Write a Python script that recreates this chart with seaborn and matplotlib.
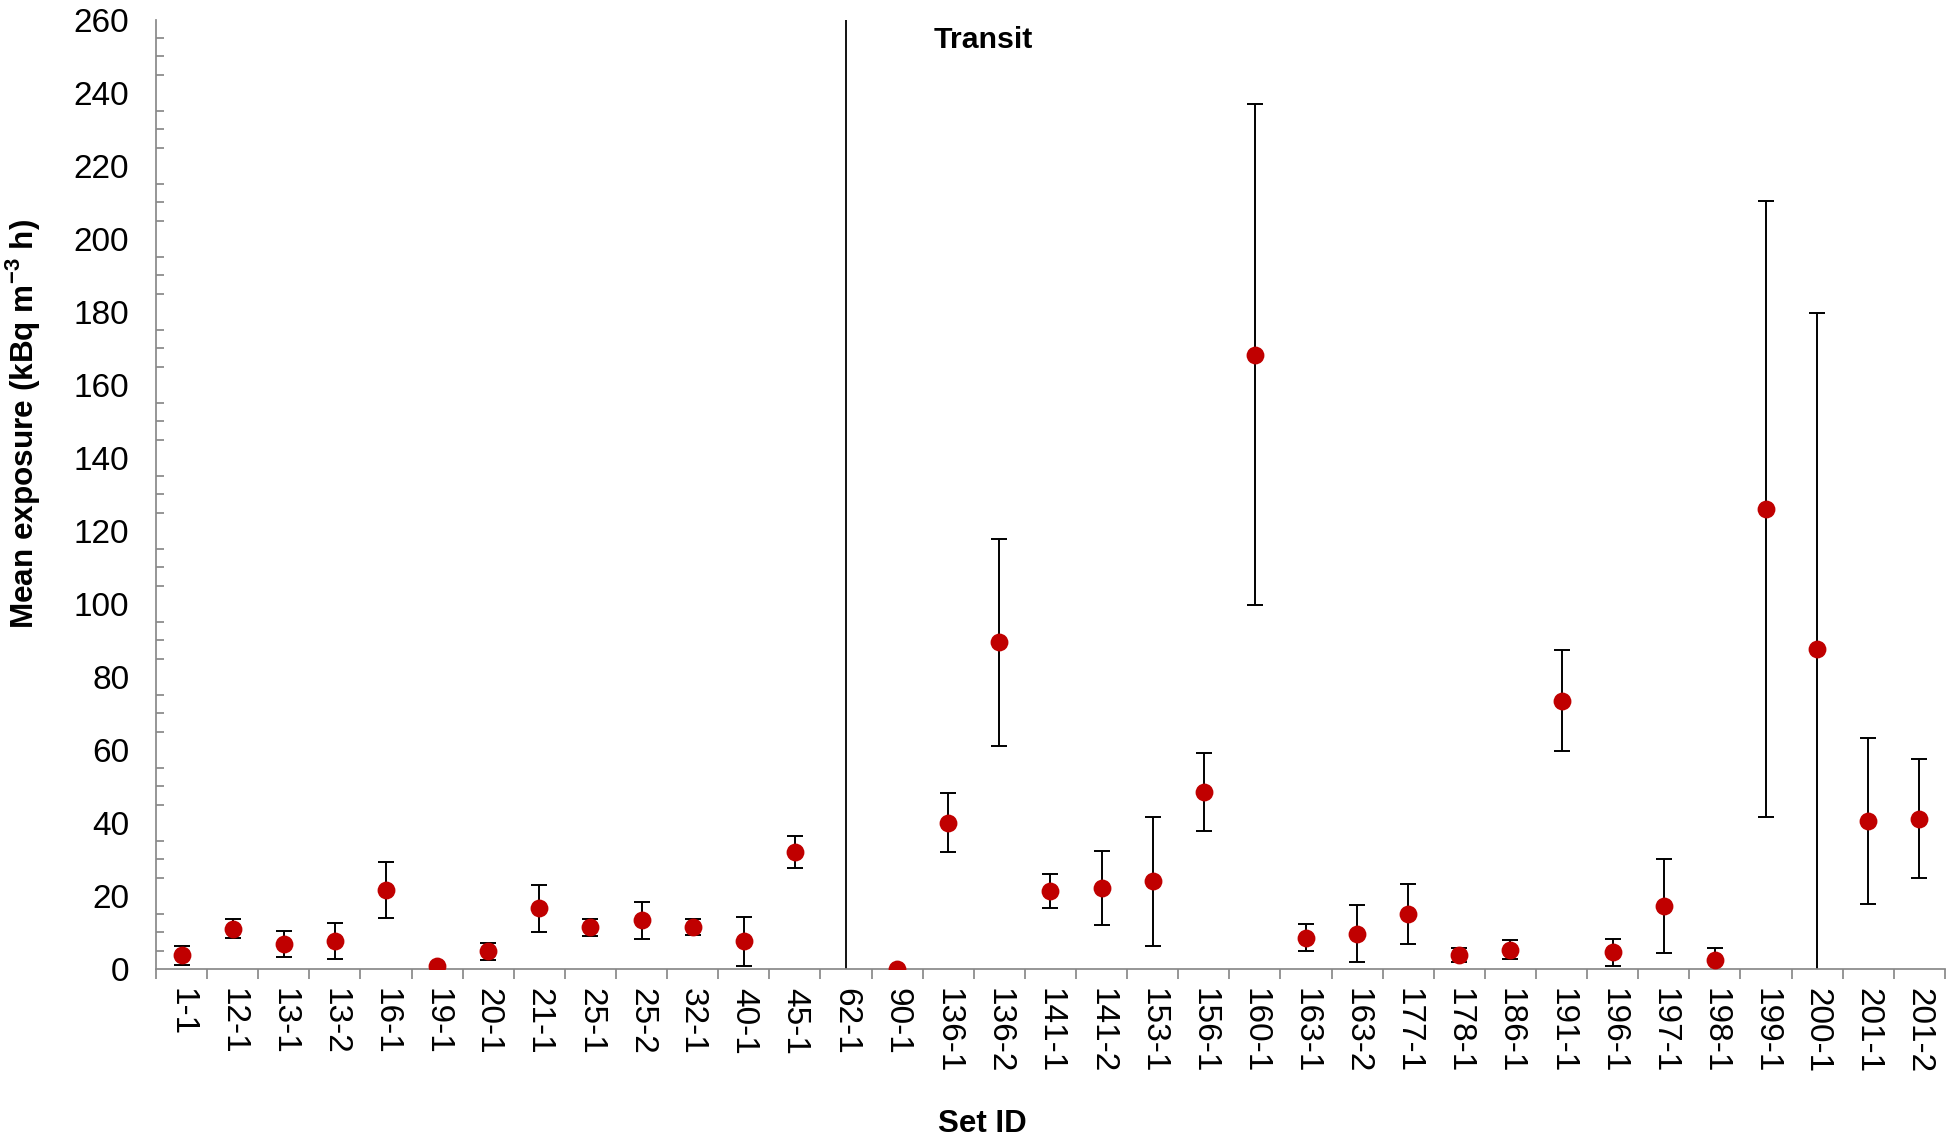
"""
mean exposure per set, with error bars and the transit divider
"""

import numpy as np
import pandas as pd
import matplotlib
matplotlib.use('Agg')
import matplotlib.pyplot as plt
from matplotlib.ticker import MultipleLocator, FixedLocator
import seaborn as sns

set_ids = ['1-1', '12-1', '13-1', '13-2', '16-1', '19-1', '20-1', '21-1', '25-1', '25-2',
           '32-1', '40-1', '45-1', '62-1', '90-1', '136-1', '136-2', '141-1', '141-2',
           '153-1', '156-1', '160-1', '163-1', '163-2', '177-1', '178-1', '186-1', '191-1',
           '196-1', '197-1', '198-1', '199-1', '200-1', '201-1', '201-2']
mean_exposure = [3.7, 11.0, 6.8, 7.7, 21.7, 0.7, 4.8, 16.6, 11.4, 13.3,
                 11.5, 7.6, 32.1, np.nan, 0.0, 40.1, 89.5, 21.3, 22.1,
                 24.0, 48.4, 168.3, 8.5, 9.7, 15.1, 3.8, 5.3, 73.5,
                 4.6, 17.2, 2.5, 126.0, 87.8, 40.5, 41.2]
error = [2.5, 2.6, 3.6, 5.0, 7.6, np.nan, 2.3, 6.4, 2.3, 5.0,
         2.3, 6.7, 4.3, np.nan, np.nan, 8.0, 28.3, 4.6, 10.1,
         17.6, 10.7, 68.6, 3.7, 7.8, 8.2, 1.9, 2.6, 13.9,
         3.7, 12.9, 3.2, 84.4, 91.9, 22.7, 16.3]
transit_set = '62-1'

df = pd.DataFrame({'set_id': set_ids, 'mean': mean_exposure, 'err': error})
df['pos'] = np.arange(len(df))

sns.set_style('white')
plt.rcParams['font.family'] = ['Liberation Sans', 'DejaVu Sans']
plt.rcParams['text.color'] = 'black'
plt.rcParams['axes.labelcolor'] = 'black'
plt.rcParams['xtick.labelcolor'] = 'black'
plt.rcParams['ytick.labelcolor'] = 'black'

fig = plt.figure(figsize=(19.5, 11.42), dpi=100)
ax = fig.add_axes([0.08, 0.1515, 0.9174, 0.831])

axis_grey = '#898989'

# error bars first, points on top
ax.errorbar(df['pos'], df['mean'], yerr=df['err'], fmt='none', ecolor='black',
            elinewidth=1.4, capsize=5.8, capthick=1.4, zorder=2)
sns.scatterplot(data=df.dropna(subset=['mean']), x='pos', y='mean', ax=ax,
                color='#C00000', s=165, linewidth=0, zorder=3, legend=False)

# transit divider
ax.axvline(df.loc[df['set_id'] == transit_set, 'pos'].iloc[0], color='black', lw=1.3, zorder=1)
ax.text(15.68, 254.5, 'Transit', fontsize=21.8, fontweight='bold', ha='center', va='center')

ax.set_xlim(-0.5, len(df) - 0.5)
ax.set_ylim(0, 260)

# y axis ticks
ax.yaxis.set_major_locator(MultipleLocator(20))
ax.yaxis.set_minor_locator(MultipleLocator(5))
ax.tick_params(axis='y', which='major', direction='inout', length=11.5, width=1.25,
               color=axis_grey, labelsize=24, pad=13.5, labelcolor='black')
ax.tick_params(axis='y', which='minor', direction='in', length=5.4, width=1.25,
               color=axis_grey, left=True)

# x axis: labels at centres, tick marks at boundaries
ax.set_xticks(df['pos'])
ax.set_xticklabels(df['set_id'], rotation=-90, va='top', ha='center')
ax.xaxis.set_minor_locator(FixedLocator(np.arange(-0.5, len(df), 1.0)))
ax.tick_params(axis='x', which='major', length=0, labelsize=24, pad=14, labelcolor='black')
ax.tick_params(axis='x', which='minor', direction='out', length=7.5, width=1.25,
               color=axis_grey, bottom=True)

for side in ['top', 'right']:
    ax.spines[side].set_visible(False)
for side in ['left', 'bottom']:
    ax.spines[side].set_color(axis_grey)
    ax.spines[side].set_linewidth(1.25)

ax.set_xlabel('Set ID', fontsize=22.5, fontweight='bold', color='black')
ax.xaxis.set_label_coords(0.4617, -0.1475)
ax.set_ylabel('Mean exposure (kBq m$^{\\mathregular{-3}}$ h)', fontsize=22.7,
              fontweight='bold', color='black')
ax.yaxis.set_label_coords(-0.064, 0.574)

plt.savefig('out.png', dpi=100)
plt.close()
